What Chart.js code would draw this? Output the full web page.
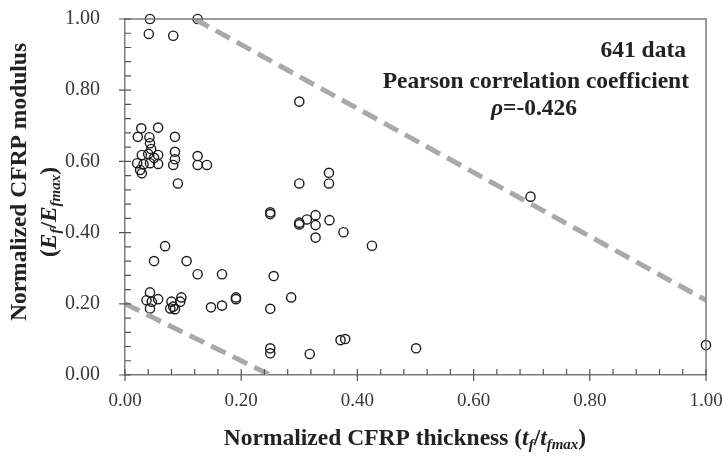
<!DOCTYPE html>
<html><head><meta charset="utf-8">
<script src="https://cdn.jsdelivr.net/npm/chart.js@4/dist/chart.umd.min.js"></script>
<style>html,body{margin:0;padding:0;background:#fff}#wrap{width:722px;height:458px;position:relative}</style>
</head><body><div id="wrap"><canvas id="c" width="722" height="458"></canvas></div>
<script>
// Normalized CFRP thickness (t_f/t_fmax)
const thickness = [
  0.043,0.125,0.041,0.083,0.300,
  0.028,0.057,0.022,0.042,0.086,0.043,0.045,0.086,0.029,0.040,0.057,0.125,0.086,0.021,0.032,0.043,0.057,0.083,0.125,0.141,0.026,0.029,0.050,0.091,
  0.300,0.351,0.351,
  0.250,0.250,0.300,0.300,0.313,0.328,0.328,0.352,0.328,0.376,0.425,
  0.069,0.050,0.106,0.125,0.167,0.256,
  0.043,0.037,0.046,0.057,0.043,0.080,0.083,0.086,0.078,0.097,0.095,0.148,0.167,0.191,0.191,0.286,0.250,
  0.250,0.250,0.318,0.371,0.379,0.501,0.698,1.000
];
// Normalized CFRP modulus (E_f/E_fmax)
const modulus = [
  1.000,1.000,0.958,0.953,0.768,
  0.693,0.695,0.669,0.668,0.669,0.651,0.635,0.627,0.618,0.621,0.618,0.615,0.606,0.595,0.592,0.595,0.593,0.590,0.590,0.590,0.576,0.567,0.610,0.538,
  0.538,0.568,0.538,
  0.452,0.457,0.423,0.428,0.437,0.449,0.421,0.435,0.386,0.401,0.363,
  0.362,0.320,0.320,0.283,0.283,0.278,
  0.232,0.210,0.206,0.213,0.187,0.206,0.192,0.185,0.187,0.218,0.206,0.190,0.195,0.218,0.213,0.218,0.186,
  0.075,0.061,0.059,0.098,0.101,0.075,0.501,0.084
];
// Dashed boundary lines
const upperBoundX = [0.12, 1.0];
const upperBoundY = [1.0, 0.21];
const lowerBoundX = [0.0, 0.25];
const lowerBoundY = [0.20, 0.0];
// Axis tick labels (major ticks every 0.20, minor every 0.04)
const xTickLabels = ['0.00','0.20','0.40','0.60','0.80','1.00'];
const yTickLabels = ['0.00','0.20','0.40','0.60','0.80','1.00'];
const minorStep = 0.04;

const SERIF = '"Liberation Serif","Times New Roman",serif';
const AXIS_COLOR = '#7a7a7a';
const TITLE_SIZE = 23.5;

function toPoints(xs, ys){ return xs.map((x,i)=>({x:x,y:ys[i]})); }
function labelFor(v, labels){
  const k = Math.round(v*5);
  if (Math.abs(v*5 - k) < 1e-6 && k>=0 && k<labels.length) return labels[k];
  return '';
}
function zeroPad(s){ s.paddingTop = 0; s.paddingBottom = 0; s.paddingLeft = 0; s.paddingRight = 0; }

function drawRich(ctx, segs, cx, cy, size){
  let total = 0;
  const fonts = segs.map(s=>{
    const sz = s.sub ? Math.round(size*0.62) : size;
    const f = (s.it?'italic ':'') + 'bold ' + sz + 'px ' + SERIF;
    ctx.font = f;
    const w = ctx.measureText(s.t).width;
    total += w;
    return {f, w};
  });
  let x = cx - total/2;
  segs.forEach((s,i)=>{
    ctx.font = fonts[i].f;
    ctx.fillText(s.t, x, cy + (s.sub ? size*0.28 : 0));
    x += fonts[i].w;
  });
}

const decorPlugin = {
  id:'decor',
  afterDraw(chart){
    const ctx = chart.ctx, ca = chart.chartArea;
    const xs = chart.scales.x, ys = chart.scales.y;
    ctx.save();
    ctx.strokeStyle = AXIS_COLOR; ctx.lineWidth = 1.5;
    ctx.beginPath();
    ctx.moveTo(ca.left, ca.top); ctx.lineTo(ca.right, ca.top); ctx.lineTo(ca.right, ca.bottom);
    ctx.stroke();
    ctx.lineWidth = 1.2; ctx.strokeStyle = '#555';
    ctx.beginPath();
    for (let i=0;i<=25;i++){
      const v = i*minorStep;
      const major = (i%5===0);
      const px = xs.getPixelForValue(v);
      ctx.moveTo(px, ca.bottom + (major?6:0)); ctx.lineTo(px, ca.bottom - 6);
      const py = ys.getPixelForValue(v);
      ctx.moveTo(ca.left - (major?6:0), py); ctx.lineTo(ca.left + 6, py);
    }
    ctx.stroke();
    ctx.fillStyle = '#222';
    ctx.textBaseline = 'middle';
    ctx.font = 'bold ' + TITLE_SIZE + 'px ' + SERIF;
    ctx.textAlign = 'right';
    ctx.fillText('641 data', 686, 51);
    ctx.fillText('Pearson correlation coefficient', 689, 82);
    ctx.textAlign = 'left';
    drawRich(ctx, [{t:'ρ',it:true},{t:'=-0.426'}], 534, 109, TITLE_SIZE);
    drawRich(ctx, [{t:'Normalized CFRP thickness ('},{t:'t',it:true},{t:'f',it:true,sub:true},{t:'/'},{t:'t',it:true},{t:'fmax',it:true,sub:true},{t:')'}], 405, 439, TITLE_SIZE);
    ctx.save();
    ctx.translate(20, 182); ctx.rotate(-Math.PI/2);
    drawRich(ctx, [{t:'Normalized CFRP modulus'}], 0, 0, TITLE_SIZE);
    ctx.restore();
    ctx.save();
    ctx.translate(50, 212); ctx.rotate(-Math.PI/2);
    drawRich(ctx, [{t:'('},{t:'E',it:true},{t:'f',it:true,sub:true},{t:'/'},{t:'E',it:true},{t:'fmax',it:true,sub:true},{t:')'}], 0, 0, TITLE_SIZE);
    ctx.restore();
    ctx.restore();
  }
};

const lineStyle = {
  type:'line', showLine:true, pointRadius:0, borderColor:'#a9a9a9', borderWidth:5,
  borderDash:[16,8], fill:false, tension:0
};

new Chart(document.getElementById('c'), {
  type:'scatter',
  data:{
    datasets:[
      Object.assign({label:'upper', data: toPoints(upperBoundX, upperBoundY)}, lineStyle),
      Object.assign({label:'lower', data: toPoints(lowerBoundX, lowerBoundY)}, lineStyle),
      { label:'data', data: toPoints(thickness, modulus), pointStyle:'circle', pointRadius:4.6,
        pointBorderWidth:1.4, pointBorderColor:'#1c1c1c', pointBackgroundColor:'rgba(255,255,255,0)',
        clip:false }
    ]
  },
  options:{
    responsive:false, animation:false, devicePixelRatio:1,
    layout:{ padding:{ top:19, right:16, left:0, bottom:0 } },
    plugins:{ legend:{display:false}, tooltip:{enabled:false} },
    scales:{
      x:{ type:'linear', min:0, max:1,
        ticks:{ stepSize:minorStep, autoSkip:false, maxRotation:0, padding:15, color:'#383838',
          font:{family:SERIF, size:19}, callback:(v)=>labelFor(v, xTickLabels) },
        grid:{ display:false, drawTicks:false }, border:{ display:true, color:AXIS_COLOR, width:1.5 },
        afterFit(s){ s.height = 83; zeroPad(s); } },
      y:{ type:'linear', min:0, max:1,
        ticks:{ stepSize:minorStep, autoSkip:false, padding:25, color:'#383838',
          font:{family:SERIF, size:20}, callback:(v)=>labelFor(v, yTickLabels) },
        grid:{ display:false, drawTicks:false }, border:{ display:true, color:AXIS_COLOR, width:1.5 },
        afterFit(s){ s.width = 125; zeroPad(s); } }
    }
  },
  plugins:[decorPlugin]
});
</script></body></html>
